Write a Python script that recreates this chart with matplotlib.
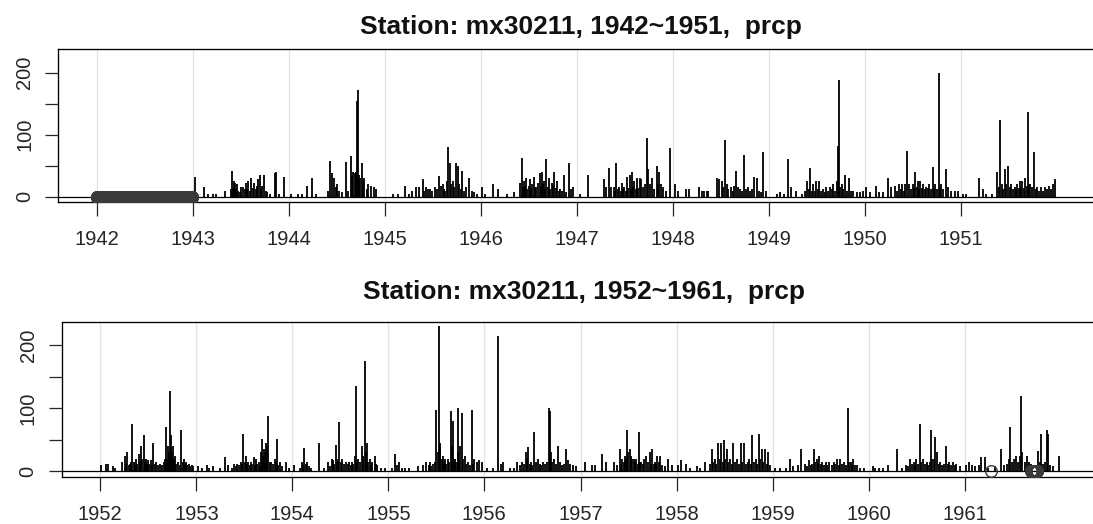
#!/usr/bin/env python3
"""
Daily precipitation, station mx30211, two decade panels (1942-1951, 1952-1961)
"""
import matplotlib
matplotlib.use('Agg')
import matplotlib.pyplot as plt
import matplotlib.dates as mdates
import pandas as pd

plt.rcParams['font.family'] = ['Liberation Sans', 'DejaVu Sans']

STATION = 'mx30211'

# daily rainfall (mm), as (day of year, value) for days with rain
wet_1943 = [(8, 32), (43, 16), (61, 5), (80, 5), (88, 5), (125, 10), (146, 12), (150, 42), (154, 14),
            (158, 25), (162, 22), (166, 12), (170, 20), (174, 10), (180, 8), (186, 15), (192, 15),
            (198, 12), (203, 22), (208, 12), (213, 25), (218, 10), (224, 30), (229, 14), (234, 22),
            (240, 12), (245, 18), (250, 28), (256, 35), (261, 12), (266, 18), (272, 35), (278, 10),
            (285, 8), (295, 5), (315, 38), (319, 40), (328, 5), (348, 31)]
wet_1944 = [(9, 5), (36, 5), (52, 5), (70, 18), (90, 30), (103, 5), (150, 10), (159, 58), (167, 38),
            (172, 30), (180, 15), (186, 20), (194, 10), (203, 8), (217, 56), (227, 10), (237, 65),
            (243, 35), (247, 40), (253, 38), (257, 40), (261, 155), (266, 172), (270, 35), (273, 30),
            (279, 54), (283, 25), (287, 30), (297, 12), (303, 20), (313, 18), (324, 15), (333, 12)]
wet_1945 = [(32, 5), (52, 5), (78, 18), (92, 5), (105, 10), (118, 15), (131, 15), (145, 28), (151, 10),
            (158, 15), (165, 12), (171, 12), (181, 10), (191, 15), (199, 12), (208, 33), (215, 18),
            (220, 20), (226, 12), (231, 10), (236, 25), (240, 80), (247, 55), (252, 20), (258, 25),
            (264, 15), (271, 55), (278, 50), (284, 20), (290, 12), (295, 42), (303, 10), (311, 15),
            (321, 30), (331, 10), (340, 8), (350, 5)]
wet_1946 = [(5, 15), (18, 5), (45, 20), (65, 12), (100, 5), (128, 8), (148, 22), (156, 62), (160, 15),
            (165, 25), (170, 18), (174, 30), (178, 12), (183, 18), (188, 28), (192, 12), (197, 20),
            (202, 32), (207, 15), (212, 15), (218, 22), (225, 38), (229, 18), (233, 40), (237, 20),
            (241, 25), (246, 14), (250, 60), (255, 15), (260, 30), (265, 12), (270, 22), (275, 18),
            (280, 40), (285, 14), (290, 25), (296, 10), (302, 12), (310, 10), (317, 35), (325, 8),
            (334, 55), (342, 12), (352, 15)]
wet_1947 = [(14, 5), (43, 35), (104, 28), (111, 15), (122, 46), (131, 15), (141, 15), (146, 10),
            (151, 55), (157, 12), (162, 15), (167, 10), (172, 22), (176, 12), (181, 15), (186, 10),
            (192, 32), (197, 14), (203, 35), (208, 12), (212, 40), (216, 15), (219, 25), (224, 12),
            (230, 30), (235, 14), (239, 30), (246, 28), (253, 15), (259, 20), (266, 95), (273, 45),
            (280, 20), (286, 30), (295, 12), (304, 50), (309, 20), (313, 40), (320, 20), (330, 15),
            (338, 10), (354, 78)]
wet_1948 = [(9, 20), (19, 10), (49, 12), (62, 12), (102, 15), (112, 10), (120, 10), (129, 10), (135, 10),
            (169, 30), (178, 28), (186, 25), (191, 15), (198, 92), (205, 20), (212, 12), (222, 15),
            (228, 10), (235, 18), (239, 42), (248, 15), (255, 12), (262, 10), (271, 68), (279, 12),
            (288, 15), (295, 10), (301, 12), (311, 32), (319, 30), (328, 10), (335, 8), (343, 72),
            (355, 10)]
wet_1949 = [(30, 5), (43, 8), (57, 5), (74, 60), (84, 15), (104, 10), (124, 5), (137, 10), (144, 25),
            (151, 12), (158, 46), (163, 10), (168, 20), (174, 10), (178, 25), (185, 12), (191, 25),
            (198, 10), (205, 12), (212, 8), (218, 15), (225, 10), (232, 15), (239, 12), (245, 20),
            (252, 10), (259, 25), (263, 81), (268, 188), (272, 15), (276, 20), (282, 12), (290, 35),
            (296, 10), (306, 30), (313, 10), (319, 10), (333, 8), (346, 8), (357, 10)]
wet_1950 = [(5, 15), (21, 8), (41, 18), (55, 8), (68, 8), (88, 30), (101, 15), (115, 18), (123, 10),
            (130, 20), (136, 12), (141, 20), (148, 10), (154, 20), (161, 73), (168, 20), (174, 12),
            (181, 20), (186, 14), (192, 40), (197, 15), (201, 25), (205, 12), (210, 25), (216, 14),
            (221, 20), (228, 12), (234, 15), (240, 14), (245, 20), (250, 12), (257, 48), (262, 14),
            (268, 20), (274, 12), (281, 199), (285, 15), (290, 20), (298, 12), (308, 45), (317, 15),
            (328, 10), (341, 10), (352, 10)]
wet_1951 = [(9, 5), (19, 5), (67, 30), (83, 12), (97, 5), (117, 5), (137, 40), (144, 15), (150, 123),
            (157, 20), (161, 12), (166, 45), (173, 20), (180, 50), (185, 15), (191, 20), (197, 12),
            (204, 15), (209, 12), (215, 20), (220, 14), (224, 25), (228, 15), (234, 25), (239, 14),
            (244, 30), (250, 18), (254, 137), (259, 20), (264, 20), (271, 15), (278, 72), (284, 12),
            (291, 15), (298, 10), (305, 15), (311, 10), (318, 15), (328, 12), (336, 18), (342, 12),
            (349, 20), (358, 28)]

wet_1952 = [(4, 10), (24, 12), (31, 12), (50, 8), (57, 5), (86, 15), (94, 25), (100, 12), (104, 30),
            (110, 10), (113, 12), (118, 15), (124, 75), (130, 15), (134, 10), (139, 20), (143, 12),
            (147, 28), (153, 15), (157, 40), (162, 20), (166, 58), (170, 15), (174, 20), (179, 12),
            (183, 18), (187, 12), (193, 18), (198, 10), (203, 45), (208, 12), (214, 15), (220, 10),
            (227, 12), (235, 10), (243, 15), (247, 20), (250, 70), (254, 20), (259, 40), (263, 30),
            (267, 128), (270, 35), (272, 58), (276, 30), (280, 40), (283, 20), (287, 25), (291, 12),
            (296, 15), (303, 10), (309, 66), (315, 15), (320, 20), (325, 12), (329, 15), (333, 10),
            (339, 12), (344, 8), (349, 10), (356, 8)]
wet_1953 = [(8, 8), (24, 5), (40, 10), (50, 5), (66, 8), (90, 5), (110, 22), (123, 10), (136, 5),
            (143, 12), (151, 8), (156, 12), (163, 10), (169, 15), (174, 12), (179, 60), (184, 15),
            (189, 25), (194, 12), (198, 15), (204, 10), (209, 15), (214, 12), (220, 22), (224, 10),
            (229, 20), (233, 12), (238, 15), (243, 10), (247, 30), (251, 52), (255, 25), (259, 35),
            (263, 30), (266, 45), (271, 40), (275, 88), (280, 15), (286, 15), (292, 12), (299, 20),
            (304, 15), (308, 52), (313, 10), (319, 15), (328, 8), (341, 15), (352, 5)]
wet_1954 = [(9, 10), (30, 5), (36, 15), (40, 10), (46, 37), (51, 12), (56, 15), (63, 8), (70, 5),
            (103, 45), (123, 5), (137, 15), (144, 8), (150, 20), (157, 18), (161, 12), (166, 42),
            (170, 15), (174, 20), (180, 78), (185, 15), (191, 20), (197, 12), (204, 15), (211, 12),
            (217, 15), (223, 10), (228, 15), (233, 12), (238, 25), (244, 136), (248, 15), (251, 20),
            (258, 15), (264, 40), (268, 18), (271, 25), (278, 175), (282, 30), (285, 45), (290, 15),
            (295, 20), (301, 10), (305, 15), (314, 25), (318, 12), (322, 10), (338, 5), (352, 5)]
wet_1955 = [(13, 5), (26, 28), (33, 10), (40, 15), (53, 5), (66, 5), (79, 5), (112, 8), (132, 10),
            (146, 15), (154, 10), (159, 15), (165, 8), (172, 12), (177, 15), (183, 98), (188, 30),
            (192, 231), (196, 40), (198, 45), (204, 20), (209, 25), (214, 15), (218, 20), (222, 12),
            (228, 20), (233, 15), (238, 95), (242, 40), (245, 80), (249, 20), (254, 20), (259, 15),
            (265, 30), (267, 100), (271, 20), (275, 40), (280, 92), (286, 20), (291, 25), (298, 12),
            (304, 15), (311, 10), (318, 98), (323, 12), (328, 20), (337, 15), (347, 18), (357, 15)]
wet_1956 = [(12, 5), (32, 5), (52, 215), (65, 12), (72, 15), (98, 5), (112, 5), (125, 15), (138, 10),
            (145, 15), (151, 12), (158, 30), (162, 20), (167, 38), (173, 12), (178, 15), (183, 10),
            (191, 62), (196, 15), (205, 20), (211, 12), (218, 10), (224, 15), (231, 12), (240, 15),
            (247, 100), (250, 95), (254, 30), (260, 15), (266, 20), (272, 12), (280, 40), (287, 15),
            (295, 10), (302, 12), (311, 35), (318, 18), (326, 12), (338, 10), (350, 8)]
wet_1957 = [(16, 15), (45, 10), (56, 10), (83, 27), (96, 15), (129, 15), (139, 10), (149, 35), (155, 12),
            (160, 20), (165, 15), (169, 25), (173, 20), (179, 66), (183, 30), (187, 35), (192, 25),
            (197, 20), (203, 20), (208, 15), (213, 20), (219, 12), (223, 62), (227, 15), (232, 15),
            (237, 12), (243, 20), (249, 25), (256, 15), (263, 30), (268, 12), (273, 35), (279, 12),
            (283, 15), (288, 12), (293, 25), (299, 15), (303, 25), (312, 10), (323, 8), (333, 20),
            (347, 10)]
wet_1958 = [(8, 10), (17, 18), (37, 12), (53, 5), (77, 8), (91, 5), (108, 15), (128, 12), (137, 35),
            (141, 15), (147, 20), (152, 12), (160, 45), (165, 20), (171, 45), (176, 15), (180, 50),
            (185, 20), (191, 35), (197, 15), (204, 20), (211, 12), (217, 45), (224, 15), (231, 20),
            (237, 12), (244, 45), (251, 15), (257, 45), (264, 12), (271, 15), (277, 20), (283, 12),
            (288, 58), (295, 15), (301, 20), (307, 12), (313, 60), (319, 20), (324, 35), (331, 15),
            (337, 35), (343, 12), (347, 30), (355, 10)]
wet_1959 = [(11, 5), (31, 5), (51, 5), (66, 20), (78, 8), (98, 10), (109, 35), (123, 12), (132, 8),
            (139, 18), (146, 10), (152, 12), (159, 35), (163, 15), (168, 20), (174, 12), (179, 25),
            (185, 12), (190, 15), (195, 10), (204, 15), (209, 10), (217, 15), (225, 10), (233, 15),
            (240, 12), (247, 20), (252, 10), (257, 20), (264, 12), (271, 15), (279, 10), (287, 100),
            (292, 15), (298, 15), (303, 10), (307, 20), (314, 10), (321, 10), (334, 5), (348, 5)]
wet_1960 = [(16, 8), (27, 5), (40, 5), (56, 5), (76, 10), (109, 35), (129, 5), (142, 10), (151, 8),
            (159, 20), (165, 12), (173, 15), (178, 10), (182, 20), (189, 12), (197, 75), (202, 15),
            (209, 20), (215, 12), (222, 15), (228, 10), (234, 15), (238, 65), (243, 20), (248, 20),
            (255, 55), (262, 30), (268, 12), (274, 15), (281, 10), (289, 12), (297, 40), (302, 12),
            (307, 15), (314, 10), (321, 15), (328, 10), (335, 12), (348, 8)]
wet_1961 = [(5, 10), (15, 15), (28, 10), (40, 8), (55, 10), (64, 22), (76, 23), (90, 5), (115, 8),
            (137, 36), (150, 10), (160, 12), (168, 20), (174, 71), (180, 15), (188, 20), (196, 25),
            (203, 15), (210, 25), (215, 120), (220, 30), (228, 15), (239, 25), (246, 15), (252, 12),
            (281, 33), (285, 15), (292, 59), (298, 12), (305, 15), (314, 66), (318, 60), (325, 10),
            (335, 8), (360, 25)]

# days with no record, as (first, last)
missing_top = [('1942-01-01', '1942-12-31')]
missing_bottom = [('1961-04-11', '1961-04-11'), ('1961-09-10', '1961-10-04')]

panels = [
    {'start': 1942, 'end': 1951, 'missing': missing_top,
     'years': [wet_1943, wet_1944, wet_1945, wet_1946, wet_1947, wet_1948, wet_1949, wet_1950, wet_1951],
     'first_wet_year': 1943,
     'box': (58.3, 201.7, 152.7), 'ylim': (-8, 238), 'title_xy': (580.8, 34.3)},
    {'start': 1952, 'end': 1961, 'missing': missing_bottom,
     'years': [wet_1952, wet_1953, wet_1954, wet_1955, wet_1956, wet_1957, wet_1958, wet_1959, wet_1960, wet_1961],
     'first_wet_year': 1952,
     'box': (61.7, 476.7, 154.7), 'ylim': (-8.5, 237), 'title_xy': (584.0, 299.3)},
]

W, H = 1093, 524
PX_PER_DAY = 96.06 / 365.25

fig = plt.figure(figsize=(W / 100, H / 100), dpi=100)

for p in panels:
    d0 = pd.Timestamp(f"{p['start']}-01-01")
    d1 = pd.Timestamp(f"{p['end']}-12-31")
    span = (d1 - d0).days
    pad = 0.04 * span
    width_px = span * 1.08 * PX_PER_DAY

    left, bottom_px, height_px = p['box']
    ax = fig.add_axes([left / W, (H - bottom_px) / H, width_px / W, height_px / H])

    # rain bars (type = 'h')
    dates, vals = [], []
    for k, yr_list in enumerate(p['years']):
        jan1 = pd.Timestamp(f"{p['first_wet_year'] + k}-01-01")
        for doy, mm in yr_list:
            dates.append(jan1 + pd.Timedelta(days=doy - 1))
            vals.append(mm)

    year_ticks = [pd.Timestamp(f"{y}-01-01") for y in range(p['start'], p['end'] + 1)]
    for t in year_ticks:
        ax.axvline(t, color='#e3e3e3', lw=0.9, zorder=0)

    ax.axhline(0, color='black', lw=0.9, zorder=2)
    ax.vlines(dates, 0, vals, color='black', lw=1.3, zorder=3)

    # missing days marked with open circles on the zero line
    for a, b in p['missing']:
        md = pd.date_range(a, b, freq='D')
        ax.plot(md, [0] * len(md), linestyle='none', marker='o', ms=8.3,
                mfc='none', mec='#3a3a3a', mew=1.0, zorder=4)

    ax.set_xlim(mdates.date2num(d0) - pad, mdates.date2num(d1) + pad)
    ax.set_ylim(*p['ylim'])

    ax.set_xticks(year_ticks)
    ax.set_xticklabels([str(y) for y in range(p['start'], p['end'] + 1)])
    ax.set_yticks([0, 50, 100, 150, 200])
    ax.set_yticklabels(['0', '', '100', '', '200'], rotation=90, va='center')
    ax.tick_params(axis='x', length=10, width=0.9, pad=10.5, labelsize=14.5, colors='#262626')
    ax.tick_params(axis='y', length=9.4, width=0.9, pad=8, labelsize=14.5, colors='#262626')
    for s in ax.spines.values():
        s.set_linewidth(0.95)

    tx, ty = p['title_xy']
    fig.text(tx / W, (H - ty) / H,
             f"Station: {STATION}, {p['start']}~{p['end']},  prcp",
             ha='center', va='baseline', fontsize=19, fontweight='bold', color='#111111')

fig.savefig('out.png', dpi=100)
